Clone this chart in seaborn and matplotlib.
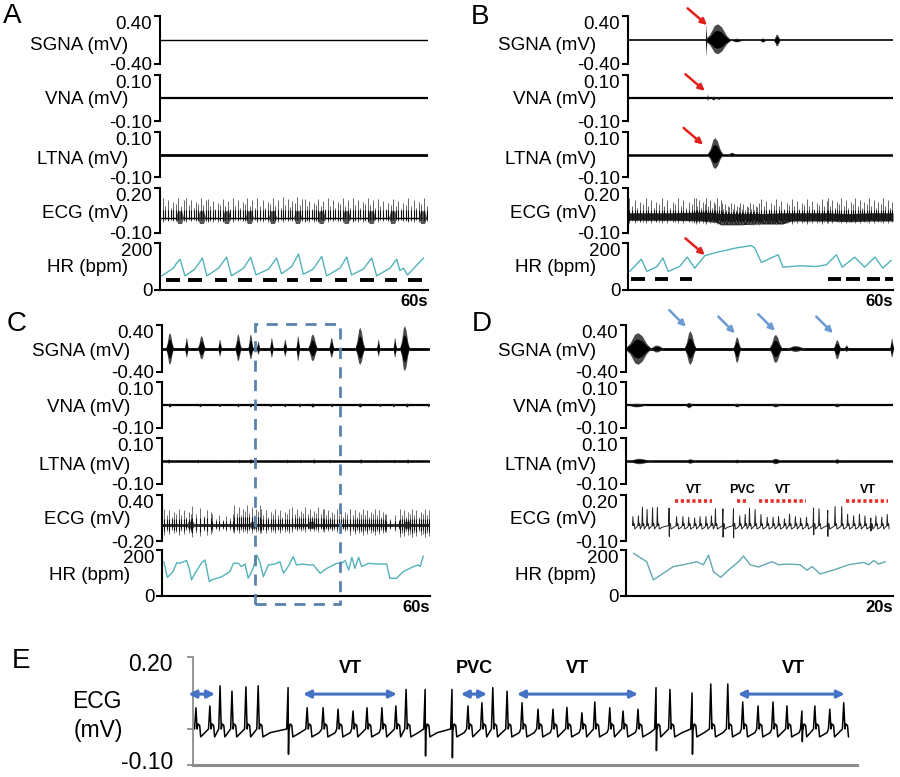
import numpy as np
import matplotlib
matplotlib.use("Agg")
import matplotlib.pyplot as plt
import seaborn as sns
from matplotlib.patches import Rectangle
from matplotlib.transforms import offset_copy

sns.set_style("white")
plt.rcParams['font.family'] = ['Liberation Sans', 'DejaVu Sans']
plt.rcParams['text.color'] = 'black'
plt.rcParams['ytick.color'] = 'black'
plt.rcParams['ytick.labelcolor'] = 'black'

# ---------------- heart rate traces (s, bpm) ----------------
hrA_t = [0.4, 3.0, 3.7, 4.5, 5.6, 7.8, 9.5, 10.5, 13.1, 14.9, 16.0, 18.7, 20.3, 21.5, 24.3, 26.1, 27.2, 29.5,
         31.0, 32.1, 34.3, 36.2, 37.3, 40.3, 41.8, 42.9, 45.5, 47.4, 48.5, 51.5, 53.0, 53.7, 54.5, 55.4, 59.0]
hrA_bpm = [60, 93, 114, 131, 60, 89, 136, 60, 93, 140, 60, 93, 139, 64, 89, 136, 69, 100,
           153, 67, 89, 143, 60, 93, 140, 64, 89, 136, 60, 93, 131, 83, 93, 64, 136]

hrB_t = [0.4, 3.0, 4.3, 6.6, 7.9, 9.1, 11.7, 13.4, 15.1, 17.4, 20.0, 24.5, 27.9, 28.7, 30.2, 34.0, 35.1,
         38.9, 42.6, 44.9, 47.2, 48.5, 51.3, 53.6, 55.9, 57.7, 59.6]
hrB_bpm = [79, 131, 79, 100, 136, 79, 100, 140, 93, 146, 160, 179, 189, 179, 117, 150, 97,
           103, 100, 107, 150, 97, 140, 97, 140, 93, 126]

hrC_t = [0.4, 1.2, 2.5, 3.3, 4.0, 4.8, 5.5, 6.1, 6.6, 7.4, 8.9, 9.6, 10.0, 10.6, 11.1, 13.4, 15.2, 16.0,
         17.1, 17.8, 18.6, 19.3, 20.4, 21.2, 21.9, 22.7, 23.8, 25.3, 26.4, 27.2, 28.3, 29.4, 30.1, 31.6,
         32.8, 33.9, 35.4, 36.9, 39.1, 40.2, 41.0, 41.8, 42.5, 43.2, 44.0, 44.7, 46.2, 48.1, 50.3, 51.0,
         52.5, 54.0, 56.3, 57.4, 57.8, 58.5]
hrC_bpm = [150, 81, 106, 145, 142, 149, 154, 120, 70, 99, 145, 157, 120, 62, 70, 84, 106, 142,
           142, 128, 139, 77, 120, 178, 149, 84, 135, 139, 149, 99, 130, 171, 135, 139,
           135, 135, 99, 120, 142, 142, 154, 113, 168, 120, 168, 128, 142, 139, 139, 77,
           77, 106, 128, 135, 128, 174]

hrD_t = [0.55, 1.55, 2.05, 2.8, 3.55, 4.3, 5.3, 5.8, 6.18, 6.55, 7.1, 7.68, 8.43, 8.8, 9.3, 9.93, 10.93,
         11.43, 12.05, 13.05, 13.55, 13.93, 14.55, 15.55, 16.68, 17.8, 18.18, 18.55, 18.93, 19.43]
hrD_bpm = [186, 149, 70, 99, 128, 136, 149, 136, 178, 106, 81, 113, 149, 174, 136, 126, 149,
           136, 139, 136, 112, 128, 96, 113, 136, 146, 136, 154, 139, 149]

# black bars under HR (s)
dashA_start = [1.3, 6.3, 12.3, 17.5, 23.1, 28.4, 33.6, 39.2, 44.8, 50.4, 55.6]
dashA_end = [4.5, 9.3, 14.9, 20.5, 26.1, 31.0, 36.2, 41.8, 47.8, 53.0, 58.6]
dashB_start = [0.75, 6.0, 11.7, 45.3, 49.4, 54.0, 58.1]
dashB_end = [3.8, 9.1, 14.6, 48.3, 52.5, 57.0, 59.9]

# ---------------- nerve bursts: centre, half width (s), up / down amplitude (mV) ----------------
sgnaB_c = [17.7, 20.3, 24.6, 30.5, 33.7]
sgnaB_hw = [0.15, 3.0, 1.6, 0.8, 0.8]
sgnaB_up = [0.27, 0.27, 0.03, 0.035, 0.1]
sgnaB_dn = [0.27, 0.23, 0.03, 0.035, 0.1]
vnaB_c = [18.0, 19.3, 20.5]
vnaB_hw = [0.12, 0.6, 0.5]
vnaB_up = [0.02, 0.008, 0.006]
vnaB_dn = [0.012, 0.008, 0.006]
ltnaB_c = [19.7, 23.5]
ltnaB_hw = [1.8, 1.0]
ltnaB_up = [0.075, 0.01]
ltnaB_dn = [0.062, 0.01]

sgnaC_c = [1.7, 5.45, 8.8, 12.9, 17.0, 19.8, 21.5, 24.5, 27.5, 30.4, 33.7, 37.9, 44.3, 48.4, 52.1, 54.3]
sgnaC_hw = [0.9, 0.45, 0.9, 0.45, 0.75, 0.6, 0.4, 0.45, 0.45, 0.45, 1.1, 0.6, 1.1, 0.4, 0.4, 1.1]
sgnaC_up = [0.27, 0.19, 0.22, 0.16, 0.25, 0.25, 0.13, 0.19, 0.16, 0.22, 0.25, 0.19, 0.36, 0.16, 0.19, 0.39]
sgnaC_dn = [0.27, 0.15, 0.18, 0.13, 0.21, 0.18, 0.1, 0.15, 0.13, 0.21, 0.21, 0.15, 0.27, 0.13, 0.15, 0.38]
vnaC_c = [1.7, 8.5, 12.9, 17.0, 19.8, 24.3, 27.5, 30.8, 33.7, 38.0, 44.3, 48.8, 51.8, 54.8, 59.6]
vnaC_hw = [0.5, 0.4, 0.4, 0.4, 0.4, 0.4, 0.4, 0.4, 0.6, 0.4, 0.6, 0.4, 0.4, 0.5, 0.3]
vnaC_up = [0.009, 0.008, 0.007, 0.008, 0.009, 0.007, 0.008, 0.008, 0.009, 0.008, 0.009, 0.007, 0.008, 0.009, 0.008]
ltnaC_c = [1.5, 8.0, 13.2, 17.3, 19.8, 24.0, 28.0, 31.0, 34.0, 37.5, 44.5, 48.0, 52.0, 55.0]
ltnaC_hw = [0.5, 0.4, 0.4, 0.4, 0.5, 0.4, 0.4, 0.4, 0.6, 0.4, 0.6, 0.4, 0.4, 0.5]
ltnaC_up = [0.009, 0.008, 0.007, 0.008, 0.01, 0.007, 0.008, 0.008, 0.009, 0.008, 0.009, 0.007, 0.008, 0.009]

sgnaD_c = [0.9, 2.3, 4.8, 8.3, 11.2, 12.7, 15.8, 16.5, 19.9]
sgnaD_hw = [1.0, 0.6, 0.45, 0.3, 0.5, 0.8, 0.3, 0.2, 0.15]
sgnaD_up = [0.27, 0.06, 0.3, 0.2, 0.24, 0.05, 0.15, 0.06, 0.18]
sgnaD_dn = [0.27, 0.06, 0.27, 0.24, 0.24, 0.05, 0.18, 0.05, 0.15]
vnaD_c = [0.8, 4.7, 8.3, 11.2, 15.8]
vnaD_hw = [0.8, 0.3, 0.3, 0.4, 0.3]
vnaD_up = [0.008, 0.012, 0.008, 0.008, 0.008]
ltnaD_c = [1.0, 4.8, 8.3, 11.2, 15.8]
ltnaD_hw = [1.0, 0.4, 0.3, 0.5, 0.3]
ltnaD_up = [0.012, 0.01, 0.008, 0.012, 0.01]

# ---------------- compressed ECG (A-C): beat groups ----------------
ecgA_start = [0.6, 5.9, 10.7, 16.3, 21.8, 27.5, 32.4, 37.6, 43.2, 48.8, 55.6]
ecgA_end = [5.3, 10.2, 15.7, 21.2, 27.0, 31.8, 37.0, 42.6, 48.2, 55.0, 59.7]
ecgA_n = [9, 9, 10, 10, 10, 9, 10, 10, 10, 12, 8]
ecgA_top = [0.13, 0.135, 0.125, 0.13, 0.13, 0.14, 0.125, 0.13, 0.135, 0.125, 0.13]
ecgA_bot = [-0.025, -0.025, -0.03, -0.025, -0.03, -0.025, -0.03, -0.025, -0.03, -0.025, -0.03]
blobA_c = [4.5, 9.4, 15.0, 20.1, 25.3, 30.9, 36.2, 41.8, 47.4, 52.2, 58.9]

ecgB_start = [0.3, 15.3, 21.2, 30.2, 45.2]
ecgB_end = [15.0, 21.0, 30.0, 45.0, 59.8]
ecgB_n = [25, 15, 26, 27, 29]
ecgB_top = [0.13, 0.13, 0.10, 0.125, 0.13]
ecgB_bot = [-0.035, -0.04, -0.05, -0.04, -0.035]
bandB_t = [0, 10, 17, 20, 21, 25, 30, 35, 37, 45, 50, 55, 60]
bandB_hi = [0.035, 0.035, 0.04, 0.035, 0.03, 0.03, 0.03, 0.035, 0.035, 0.035, 0.03, 0.035, 0.035]
bandB_lo = [-0.015, -0.015, -0.02, -0.03, -0.045, -0.045, -0.04, -0.04, -0.02, -0.02, -0.025, -0.02, -0.02]

ecgC_start = [0.5, 6.8, 11.2, 16.2, 22.2, 29.2, 36.2, 42.2, 50.2, 53.2]
ecgC_end = [6.5, 11.0, 16.0, 22.0, 29.0, 36.0, 42.0, 50.0, 53.0, 59.8]
ecgC_n = [12, 6, 7, 13, 14, 15, 13, 18, 4, 15]
ecgC_top = [0.22, 0.25, 0.15, 0.27, 0.22, 0.24, 0.22, 0.22, 0.15, 0.22]
ecgC_bot = [-0.12, -0.15, -0.08, -0.1, -0.1, -0.08, -0.08, -0.12, -0.08, -0.15]
blobC_c = [6.5, 20.5, 33.5, 55.0]

spike_var = [1.0, 0.62, 0.9, 0.5, 0.8, 0.7]

# ---------------- ECG of D / E: single beats (s, mV) ----------------
beat_t = [0.52, 0.93, 1.23, 1.58, 1.99, 2.35, 3.23, 3.79, 4.26, 4.70, 5.14, 5.55, 5.99, 6.40, 6.70, 7.26,
          8.05, 8.52, 8.93, 9.25, 9.67, 10.11, 10.58, 11.02, 11.43, 11.87, 12.25, 12.69, 13.08, 13.52,
          14.05, 14.46, 15.11, 15.66, 16.16, 16.60, 17.05, 17.49, 17.90, 18.34, 18.72, 19.16, 19.57]
beat_h = [0.059, 0.064, 0.12, 0.105, 0.117, 0.12, 0.115, 0.059, 0.059, 0.055, 0.05, 0.059, 0.059, 0.064,
          0.11, 0.11, 0.11, 0.064, 0.073, 0.115, 0.105, 0.073, 0.055, 0.055, 0.06, 0.045, 0.075, 0.059,
          0.05, 0.055, 0.115, 0.11, 0.10, 0.125, 0.125, 0.075, 0.064, 0.075, 0.064, 0.05, 0.064, 0.055, 0.073]
down_t = [3.23, 7.26, 8.05, 14.05, 15.11, 18.34]
down_v = [-0.07, -0.075, -0.08, -0.06, -0.07, -0.035]

rhythm = ["VT", "PVC", "VT", "VT"]
rhythm_start = [3.67, 8.31, 9.96, 16.46]
rhythm_end = [6.43, 9.08, 13.52, 19.60]
rhythm_mid = [5.05, 8.7, 11.75, 18.1]
e_first_arrow = [0.30, 1.08]

# ---------------- layout helpers ----------------
W, H = 900, 777
fig = plt.figure(figsize=(9, 7.77), dpi=100)
hr_col = "#52b3bb"


def add_ax(l, r, t, b):
    return fig.add_axes([l / W, 1 - b / H, (r - l) / W, (b - t) / H])


def trace_ax(l, r, t, b, ylim, fmt, xmax, bottom=False):
    ax = add_ax(l, r, t, b)
    ax.set_xlim(0, xmax)
    ax.set_ylim(*ylim)
    ax.set_yticks(ylim)
    ax.set_yticklabels([fmt.format(v) for v in ylim])
    ax.set_xticks([])
    sns.despine(ax=ax, bottom=not bottom)
    for s in ["left", "bottom"]:
        ax.spines[s].set_linewidth(1.5)
        ax.spines[s].set_color("black")
    ax.tick_params(axis="y", left=True, length=4, width=1.5, pad=1.5, labelsize=13.5,
                   color="black", labelcolor="black")
    lbl = ax.get_yticklabels()
    lbl[-1].set_verticalalignment("top")
    ax.patch.set_alpha(0)
    return ax


def spindle(ax, c, hw, up, dn):
    prof_x = np.array([-1, -0.6, -0.25, 0, 0.3, 0.65, 1])
    prof_y = np.array([0, 0.35, 0.9, 1, 0.8, 0.3, 0])
    for ci, w, u, d in zip(c, hw, up, dn):
        xs = ci + prof_x * w
        ax.fill_between(xs, -prof_y * d, prof_y * u, color="#4a4a4a", lw=0)
        ax.fill_between(xs, -prof_y * d * 0.6, prof_y * u * 0.6, color="black", lw=0)


def baseline(ax, lw):
    ax.axhline(0, color="black", lw=lw, zorder=1)


def spikes(ax, start, end, n, top, bot, col):
    for s, e, k, h, b in zip(start, end, n, top, bot):
        ts = np.linspace(s, e, k)
        m = np.resize(spike_var, k)
        ax.vlines(ts, b * m, h * m, color=col, lw=0.7)
        ax.vlines(ts, b * m * 0.6, h * 0.4, color="#111", lw=0.8)


def blobs(ax, c, hw, hi, lo):
    for ci in c:
        ax.fill([ci - hw, ci - hw / 2, ci + hw / 2, ci + hw, ci + hw / 2, ci - hw / 2],
                [0, hi, hi, 0, lo, lo], color="#3a3a3a", lw=0, alpha=0.85)


def ecg_trace(times, heights):
    beat_dt = [0.035, 0.06, 0.11, 0.14, 0.36]
    beat_v = [0.0, 0.014, 0.01, -0.022, -0.01]
    down = dict(zip(down_t, down_v))
    xs, ys = [], []
    for i, (t, h) in enumerate(zip(times, heights)):
        gap = times[i + 1] - t if i + 1 < len(times) else 0.4
        xs += [t - 0.04, t]
        ys += [0.0, h]
        if t in down:
            xs += [t + 0.012, t + 0.025]
            ys += [down[t], 0.0]
        for dt, v in zip(beat_dt, beat_v):
            if dt < gap - 0.06:
                xs.append(t + dt)
                ys.append(v)
    return np.array(xs), np.array(ys)


def hr_line(ax, t, bpm, col=hr_col):
    sns.lineplot(x=t, y=bpm, ax=ax, color=col, lw=1.0, estimator=None, sort=False)
    ax.set_xlabel("")
    ax.set_ylabel("")


def bars(ax, level, start, end):
    ax.hlines(np.full(len(start), level), start, end, color="black", lw=2.8)


rows_top = [(16, 64), (75, 121), (132, 177), (188, 233), (243, 290)]
rows_bot = [(325, 372), (382, 428), (438, 484), (495, 541), (550, 596)]
names = ["SGNA (mV)", "VNA (mV)", "LTNA (mV)", "ECG (mV)", "HR (bpm)"]
lab_y_top = [45, 100, 160, 214, 268]
lab_y_bot = [352, 407, 466, 520, 575]

# ================= panel A =================
l, r = 160, 428
ax = trace_ax(l, r, *rows_top[0], (-0.4, 0.4), "{:.2f}", 60)
baseline(ax, 1.0)
ax = trace_ax(l, r, *rows_top[1], (-0.1, 0.1), "{:.2f}", 60)
baseline(ax, 1.6)
ax = trace_ax(l, r, *rows_top[2], (-0.1, 0.1), "{:.2f}", 60)
baseline(ax, 2.0)
ax = trace_ax(l, r, *rows_top[3], (-0.1, 0.2), "{:.2f}", 60)
baseline(ax, 1.0)
spikes(ax, ecgA_start, ecgA_end, ecgA_n, ecgA_top, ecgA_bot, "#666666")
blobs(ax, blobA_c, 0.9, 0.045, -0.04)
ax = trace_ax(l, r, *rows_top[4], (0, 200), "{:.0f}", 60, bottom=True)
hr_line(ax, hrA_t, hrA_bpm)
bars(ax, 43, dashA_start, dashA_end)

# ================= panel B =================
l, r = 628, 893
axs = trace_ax(l, r, *rows_top[0], (-0.4, 0.4), "{:.2f}", 60)
baseline(axs, 1.2)
spindle(axs, sgnaB_c, sgnaB_hw, sgnaB_up, sgnaB_dn)
axv = trace_ax(l, r, *rows_top[1], (-0.1, 0.1), "{:.2f}", 60)
baseline(axv, 1.6)
spindle(axv, vnaB_c, vnaB_hw, vnaB_up, vnaB_dn)
axl = trace_ax(l, r, *rows_top[2], (-0.1, 0.1), "{:.2f}", 60)
baseline(axl, 1.8)
spindle(axl, ltnaB_c, ltnaB_hw, ltnaB_up, ltnaB_dn)
ax = trace_ax(l, r, *rows_top[3], (-0.1, 0.2), "{:.2f}", 60)
ax.fill_between(bandB_t, bandB_lo, bandB_hi, color="#222", lw=0)
spikes(ax, ecgB_start, ecgB_end, ecgB_n, ecgB_top, ecgB_bot, "#666666")
axh = trace_ax(l, r, *rows_top[4], (0, 200), "{:.0f}", 60, bottom=True)
hr_line(axh, hrB_t, hrB_bpm)
bars(axh, 46, dashB_start, dashB_end)

red = dict(arrowstyle="-|>", color="#e0201c", lw=1.8, mutation_scale=9, shrinkA=0, shrinkB=0)
for a, (x, y) in zip([axs, axv, axl, axh], [(17.9, 0.25), (17.4, 0.031), (17.0, 0.044), (17.4, 149)]):
    a.annotate("", xy=(x, y), xytext=(-14, 12), textcoords="offset points", arrowprops=red,
               annotation_clip=False)

# ================= panel C =================
l, r = 162, 430
ax = trace_ax(l, r, *rows_bot[0], (-0.4, 0.4), "{:.2f}", 60)
baseline(ax, 2.0)
spindle(ax, sgnaC_c, sgnaC_hw, sgnaC_up, sgnaC_dn)
ax = trace_ax(l, r, *rows_bot[1], (-0.1, 0.1), "{:.2f}", 60)
baseline(ax, 1.6)
spindle(ax, vnaC_c, vnaC_hw, vnaC_up, vnaC_up)
ax = trace_ax(l, r, *rows_bot[2], (-0.1, 0.1), "{:.2f}", 60)
baseline(ax, 1.8)
spindle(ax, ltnaC_c, ltnaC_hw, ltnaC_up, ltnaC_up)
ax = trace_ax(l, r, *rows_bot[3], (-0.2, 0.4), "{:.2f}", 60)
ax.axhspan(-0.015, 0.02, color="#333", lw=0)
spikes(ax, ecgC_start, ecgC_end, ecgC_n, ecgC_top, ecgC_bot, "#6e6e6e")
blobs(ax, blobC_c, 1.0, 0.05, -0.04)
ax = trace_ax(l, r, *rows_bot[4], (0, 200), "{:.0f}", 60, bottom=True)
hr_line(ax, hrC_t, hrC_bpm)

fig.add_artist(Rectangle((255 / W, 1 - 604 / H), 85 / W, 280 / H, transform=fig.transFigure,
                         fill=False, ec="#5a82ad", lw=2.0, ls=(0, (4, 3))))

# ================= panel D =================
l, r = 626, 893
axs = trace_ax(l, r, *rows_bot[0], (-0.4, 0.4), "{:.2f}", 20)
baseline(axs, 2.0)
spindle(axs, sgnaD_c, sgnaD_hw, sgnaD_up, sgnaD_dn)
ax = trace_ax(l, r, *rows_bot[1], (-0.1, 0.1), "{:.2f}", 20)
baseline(ax, 1.6)
spindle(ax, vnaD_c, vnaD_hw, vnaD_up, vnaD_up)
ax = trace_ax(l, r, *rows_bot[2], (-0.1, 0.1), "{:.2f}", 20)
baseline(ax, 1.8)
spindle(ax, ltnaD_c, ltnaD_hw, ltnaD_up, ltnaD_up)
axe = trace_ax(l, r, *rows_bot[3], (-0.1, 0.2), "{:.2f}", 20)
ex, ey = ecg_trace(beat_t, beat_h)
sns.lineplot(x=ex, y=ey, ax=axe, color="#222", lw=0.7, estimator=None, sort=False)
for name, s, e, m in zip(rhythm, rhythm_start, rhythm_end, rhythm_mid):
    axe.plot([s, e], [0.158, 0.158], color="#e8302a", lw=2.6, ls=(0, (0.9, 0.7)), clip_on=False)
    axe.text(m, 0.235, name, ha="center", va="center", fontsize=9, weight="bold")
ax = trace_ax(l, r, *rows_bot[4], (0, 200), "{:.0f}", 20, bottom=True)
hr_line(ax, hrD_t, hrD_bpm, "#62a9b2")

blue = dict(arrowstyle="-|>", color="#6b9bd2", lw=1.8, mutation_scale=9, shrinkA=0, shrinkB=0)
for x, y in [(4.49, 0.37), (8.16, 0.26), (11.16, 0.30), (15.5, 0.26)]:
    axs.annotate("", xy=(x, y), xytext=(-12, 12), textcoords="offset points", arrowprops=blue,
                 annotation_clip=False)

# ================= panel E =================
ax = add_ax(193, 857, 657, 765)
ax.set_xlim(0.434, 19.96)
ax.set_ylim(-0.1, 0.2)
sns.lineplot(x=ex, y=ey, ax=ax, color="black", lw=1.1, estimator=None, sort=False)
ax.set_xlabel("")
ax.set_ylabel("")
sns.despine(ax=ax)
ax.spines["left"].set_color("#8c8c8c")
ax.spines["left"].set_linewidth(1.3)
ax.spines["bottom"].set_color("#8c8c8c")
ax.spines["bottom"].set_linewidth(2.2)
ax.set_xticks([])
ax.set_yticks([-0.1, 0, 0.2])
ax.set_yticklabels([])
ax.tick_params(axis="y", left=True, length=4, width=1.3, color="#8c8c8c")
ax.patch.set_alpha(0)
tr = offset_copy(ax.get_yaxis_transform(), fig=fig, x=-20, y=0, units="dots")
ax.text(0, 0.178, "0.20", transform=tr, ha="right", va="center", fontsize=16.5)
ax.text(0, -0.094, "-0.10", transform=tr, ha="right", va="center", fontsize=16.5)

arr = dict(arrowstyle="<|-|>", color="#4472c4", lw=2.2, mutation_scale=11, shrinkA=0, shrinkB=0)
ax.annotate("", xy=(e_first_arrow[1], 0.097), xytext=(e_first_arrow[0], 0.097), arrowprops=arr,
            annotation_clip=False)
for name, s, e, m in zip(rhythm, rhythm_start, rhythm_end, rhythm_mid):
    ax.annotate("", xy=(e, 0.097), xytext=(s, 0.097), arrowprops=arr)
    ax.text(m, 0.167, name, ha="center", va="center", fontsize=13, weight="bold")

fig.text(97 / W, 1 - 702 / H, "ECG", ha="center", va="center", fontsize=16.5)
fig.text(98 / W, 1 - 730 / H, "(mV)", ha="center", va="center", fontsize=16.5)

# ================= labels =================
for x_right, ys in [(128, lab_y_top), (596, lab_y_top), (130, lab_y_bot), (596, lab_y_bot)]:
    for name, y in zip(names, ys):
        fig.text(x_right / W, 1 - y / H, name, ha="right", va="center", fontsize=13.5)

for letter, x, y in [("A", 3, 16), ("B", 471, 17), ("C", 7, 324), ("D", 472, 324), ("E", 12, 661)]:
    fig.text(x / W, 1 - y / H, letter, ha="left", va="center", fontsize=20)

for txt, x, y in [("60s", 428, 302), ("60s", 893, 302), ("60s", 430, 608), ("20s", 893, 608)]:
    fig.text(x / W, 1 - y / H, txt, ha="right", va="center", fontsize=12, weight="bold")

fig.savefig("out.png", dpi=100)
